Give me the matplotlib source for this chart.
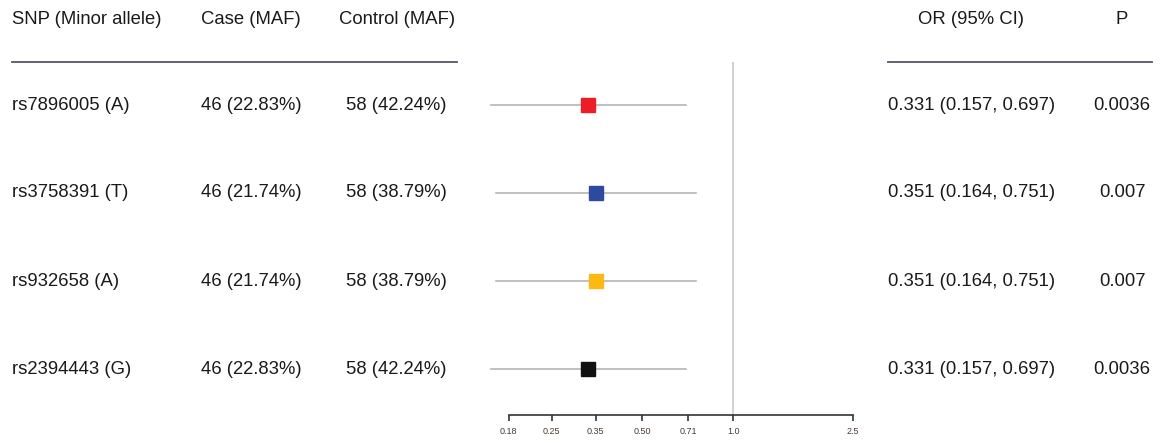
import matplotlib.pyplot as plt

plt.rcParams['font.family'] = ['Liberation Sans', 'DejaVu Sans']

# data
snps = ["rs7896005 (A)", "rs3758391 (T)", "rs932658 (A)", "rs2394443 (G)"]
case_maf = ["46 (22.83%)", "46 (21.74%)", "46 (21.74%)", "46 (22.83%)"]
control_maf = ["58 (42.24%)", "58 (38.79%)", "58 (38.79%)", "58 (42.24%)"]
odds = [0.331, 0.351, 0.351, 0.331]
ci_low = [0.157, 0.164, 0.164, 0.157]
ci_high = [0.697, 0.751, 0.751, 0.697]
p_vals = ["0.0036", "0.007", "0.007", "0.0036"]
box_colors = ["#ee1c25", "#2e4a9e", "#fdb913", "#111111"]
ticks = [0.18, 0.25, 0.35, 0.50, 0.71, 1.0, 2.5]
tick_labels = ["0.18", "0.25", "0.35", "0.50", "0.71", "1.0", "2.5"]

W, H = 1166, 443
fig = plt.figure(figsize=(W / 100, H / 100), dpi=100)

# forest panel, placed in pixel terms
ax_left, ax_right, ax_top, ax_bot = 470, 870, 62, 415
ax = fig.add_axes([ax_left / W, (H - ax_bot) / H, (ax_right - ax_left) / W, (ax_bot - ax_top) / H])
ax.set_xscale('log')
ax.set_xlim(0.134, 2.846)
ax.set_ylim(0.477, 4.49)

rows = [4, 3, 2, 1]
for r, o, lo, hi, c in zip(rows, odds, ci_low, ci_high, box_colors):
    ax.plot([lo, hi], [r, r], color="#b5b5b5", lw=1.2, zorder=1)
    ax.plot([o], [r], marker='s', ms=10, color=c, mec=c, zorder=2)

ax.axvline(1.0, color="#c8c8c8", lw=1.2, zorder=0)

for s in ['top', 'right', 'left']:
    ax.spines[s].set_visible(False)
ax.spines['bottom'].set_bounds(ticks[0], ticks[-1])
ax.spines['bottom'].set_color("#333333")
ax.spines['bottom'].set_linewidth(1.2)
ax.set_yticks([])
ax.set_xticks(ticks)
ax.set_xticklabels(tick_labels)
ax.minorticks_off()
ax.tick_params(axis='x', direction='out', length=4, width=1.2, color="#333333",
               labelsize=6.5, labelcolor="#4a3a30", pad=5)

# text columns
def px(x, y):
    return x / W, 1 - y / H

txt = dict(fontsize=13.3, color="#1a1a1a", va='center')
fig.text(*px(12, 20), "SNP (Minor allele)", ha='left', **txt)
fig.text(*px(251, 20), "Case (MAF)", ha='center', **txt)
fig.text(*px(397, 20), "Control (MAF)", ha='center', **txt)
fig.text(*px(971, 20), "OR (95% CI)", ha='center', **txt)
fig.text(*px(1122, 20), "P", ha='center', **txt)

fig.add_artist(plt.Line2D([12 / W, 457 / W], [1 - 62 / H] * 2, color="#555566", lw=1.3))
fig.add_artist(plt.Line2D([888 / W, 1152 / W], [1 - 62 / H] * 2, color="#555566", lw=1.3))

row_y = [106, 193, 282, 370]
for i, y in enumerate(row_y):
    fig.text(*px(12, y), snps[i], ha='left', **txt)
    fig.text(*px(251, y), case_maf[i], ha='center', **txt)
    fig.text(*px(396, y), control_maf[i], ha='center', **txt)
    fig.text(*px(972, y), f"{odds[i]:.3f} ({ci_low[i]:.3f}, {ci_high[i]:.3f})", ha='center', **txt)
    fig.text(*px(1122, y), p_vals[i], ha='center', **txt)

fig.savefig("out.png", dpi=100)
